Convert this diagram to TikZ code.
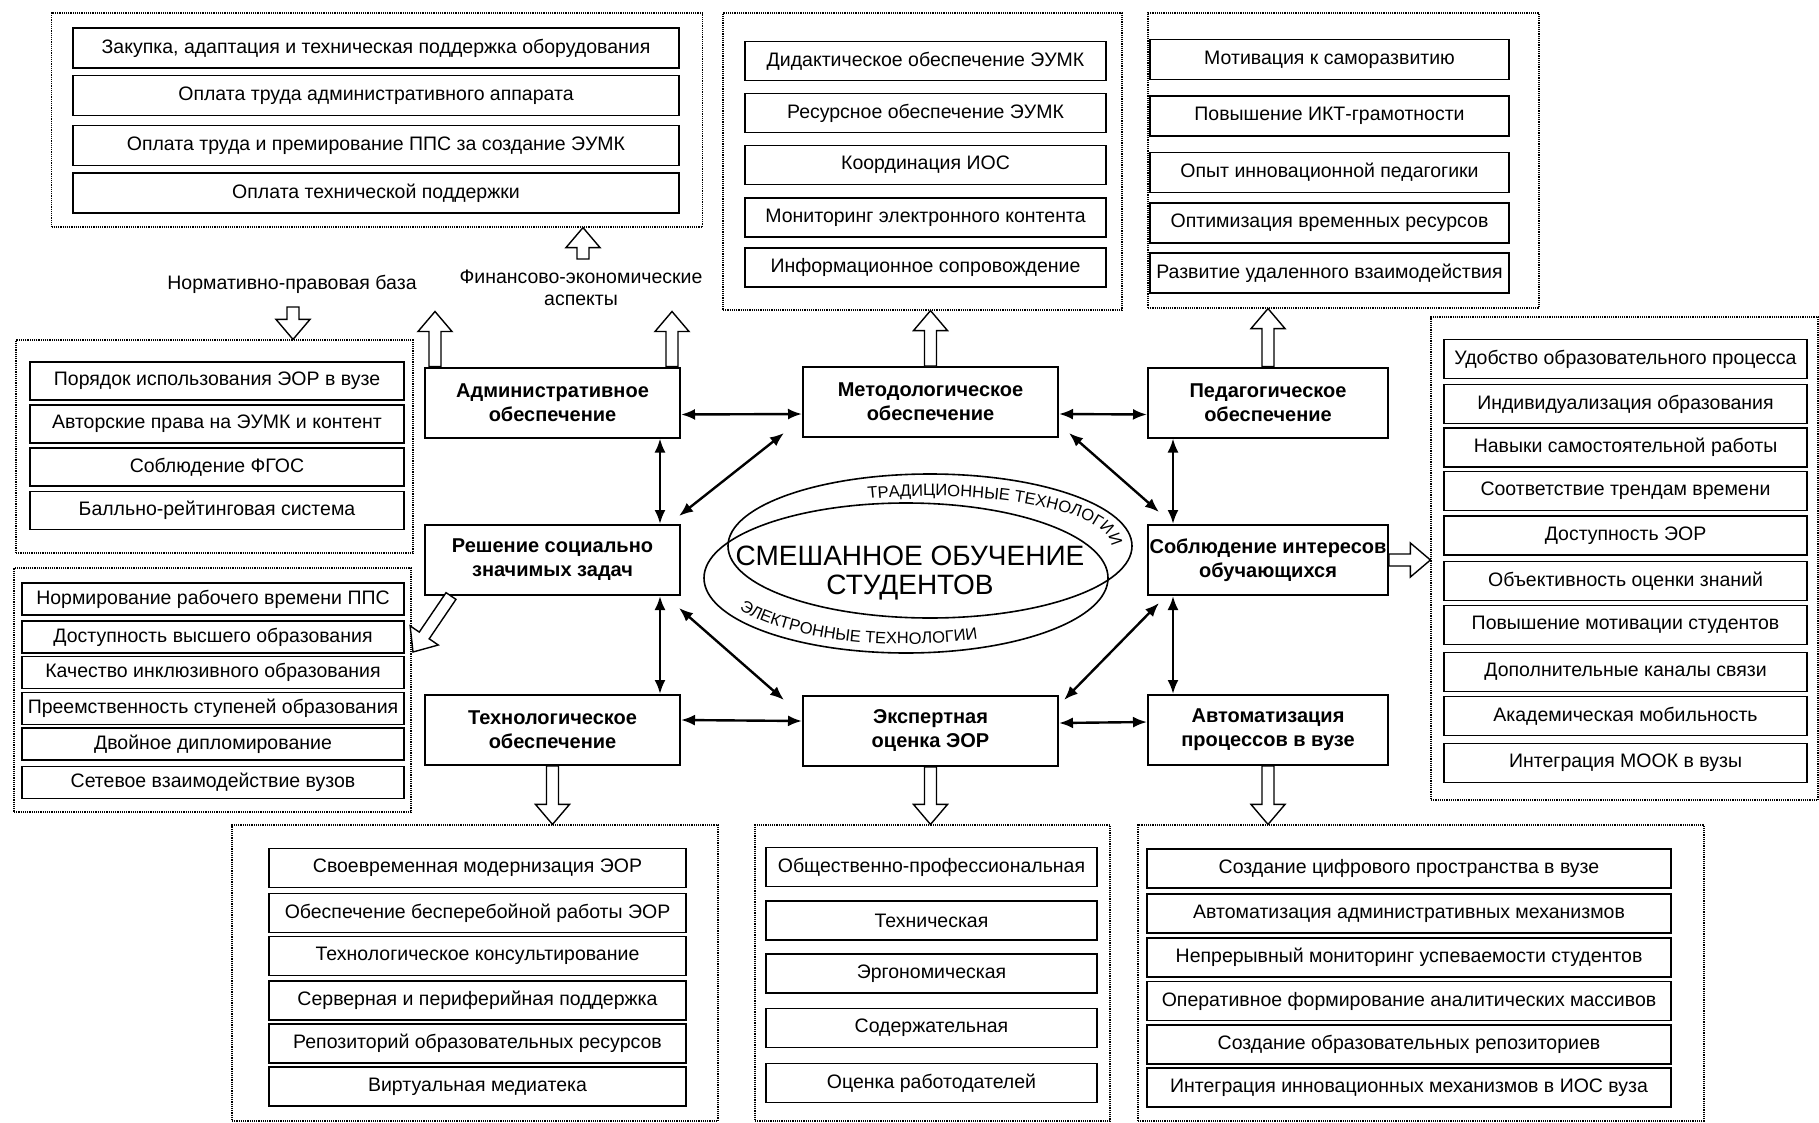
\documentclass[tikz,border=0pt]{standalone}
\usepackage{fontspec}
\setmainfont{Liberation Sans}
\usetikzlibrary{calc,arrows.meta,decorations.text}

\newcommand{\itemfont}{\fontsize{19.5}{22}\selectfont}
\newcommand{\hubfont}{\fontsize{20}{24}\selectfont\bfseries}
\newcommand{\curvefont}{\fontsize{16.5}{17}\selectfont}

\newcommand{\blockarrow}[2]{%
  \coordinate (bahead) at ($(#2)!20pt!(#1)$);
  \draw[hollow] ($(#1)!6pt!90:(#2)$) -- ($(bahead)!6pt!-90:(#1)$)
    -- ($(bahead)!17pt!-90:(#1)$) -- (#2) -- ($(bahead)!17pt!90:(#1)$)
    -- ($(bahead)!6pt!90:(#1)$) -- ($(#1)!6pt!-90:(#2)$) -- cycle;}

\begin{document}
\begin{tikzpicture}[x=1pt, y=-1pt,
  frame/.style={draw, densely dotted, line width=1.2pt},
  item/.style={draw, line width=1.6pt, fill=white, inner sep=0pt, font=\itemfont},
  finrow/.style={item, minimum width=606, minimum height=40},
  metrow/.style={item, minimum width=361, minimum height=39},
  pedrow/.style={item, minimum width=359, minimum height=40},
  lawrow/.style={item, minimum width=374, minimum height=38},
  socrow/.style={item, minimum width=382, minimum height=32},
  sturow/.style={item, minimum width=363, minimum height=39},
  tecrow/.style={item, minimum width=417, minimum height=39},
  exarow/.style={item, minimum width=331, minimum height=39},
  autrow/.style={item, minimum width=524, minimum height=39},
  hub/.style={draw, line width=2pt, fill=white, align=center, inner sep=0pt,
    minimum width=255, minimum height=70, font=\hubfont},
  lbl/.style={font=\itemfont, align=center},
  link/.style={{Latex[length=14pt,width=11pt]}-{Latex[length=14pt,width=11pt]}, line width=2.4pt},
  hollow/.style={draw, line width=1.4pt, fill=white, line join=miter}]

\useasboundingbox (0,0) rectangle (1819,1123);

\node[frame, minimum width=651, minimum height=214] (finbox) at (377,120) {};
\node[frame, minimum width=399, minimum height=297] (metbox) at (922.5,161.5) {};
\node[frame, minimum width=391, minimum height=295] (pedbox) at (1343.5,160.5) {};
\node[frame, minimum width=397, minimum height=213] (lawbox) at (214.5,446.5) {};
\node[frame, minimum width=397, minimum height=244] (socbox) at (212.5,690) {};
\node[frame, minimum width=387, minimum height=483] (stubox) at (1624.5,558.5) {};
\node[frame, minimum width=486, minimum height=296] (tecbox) at (475,973) {};
\node[frame, minimum width=355, minimum height=296] (exabox) at (932.5,973) {};
\node[frame, minimum width=566, minimum height=296] (autbox) at (1421,973) {};

\node[finrow] (fin1) at (376,48) {Закупка, адаптация и техническая поддержка оборудования};
\node[finrow] (fin2) at (376,95.5) {Оплата труда административного аппарата};
\node[finrow] (fin3) at (376,145.5) {Оплата труда и премирование ППС за создание ЭУМК};
\node[finrow] (fin4) at (376,193) {Оплата технической поддержки};

\node[metrow] (met1) at (925.5,61) {Дидактическое обеспечение ЭУМК};
\node[metrow] (met2) at (925.5,113) {Ресурсное обеспечение ЭУМК};
\node[metrow] (met3) at (925.5,165) {Координация ИОС};
\node[metrow] (met4) at (925.5,217.5) {Мониторинг электронного контента};
\node[metrow] (met5) at (925.5,267.5) {Информационное сопровождение};

\node[pedrow] (ped1) at (1329.5,59.5) {Мотивация к саморазвитию};
\node[pedrow] (ped2) at (1329.5,116) {Повышение ИКТ-грамотности};
\node[pedrow] (ped3) at (1329.5,172.5) {Опыт инновационной педагогики};
\node[pedrow] (ped4) at (1329.5,223) {Оптимизация временных ресурсов};
\node[pedrow] (ped5) at (1329.5,273) {Развитие удаленного взаимодействия};

\node[lawrow] (law1) at (217,381) {Порядок использования ЭОР в вузе};
\node[lawrow] (law2) at (217,424) {Авторские права на ЭУМК и контент};
\node[lawrow] (law3) at (217,467) {Соблюдение ФГОС};
\node[lawrow] (law4) at (217,510.5) {Балльно-рейтинговая система};

\node[socrow] (soc1) at (213,599) {Нормирование рабочего времени ППС};
\node[socrow] (soc2) at (213,637) {Доступность высшего образования};
\node[socrow] (soc3) at (213,672.5) {Качество инклюзивного образования};
\node[socrow] (soc4) at (213,708.5) {Преемственность ступеней образования};
\node[socrow] (soc5) at (213,744) {Двойное дипломирование};
\node[socrow] (soc6) at (213,782.5) {Сетевое взаимодействие вузов};

\node[sturow] (stu1) at (1625.5,359) {Удобство образовательного процесса};
\node[sturow] (stu2) at (1625.5,404) {Индивидуализация образования};
\node[sturow] (stu3) at (1625.5,447.5) {Навыки самостоятельной работы};
\node[sturow] (stu4) at (1625.5,491) {Соответствие трендам времени};
\node[sturow] (stu5) at (1625.5,535.5) {Доступность ЭОР};
\node[sturow] (stu6) at (1625.5,581) {Объективность оценки знаний};
\node[sturow] (stu7) at (1625.5,625) {Повышение мотивации студентов};
\node[sturow] (stu8) at (1625.5,672) {Дополнительные каналы связи};
\node[sturow] (stu9) at (1625.5,716) {Академическая мобильность};
\node[sturow] (stu10) at (1625.5,763) {Интеграция МООК в вузы};

\node[tecrow] (tec1) at (477.5,868) {Своевременная модернизация ЭОР};
\node[tecrow] (tec2) at (477.5,913) {Обеспечение бесперебойной работы ЭОР};
\node[tecrow] (tec3) at (477.5,956) {Технологическое консультирование};
\node[tecrow] (tec4) at (477.5,1000.5) {Серверная и периферийная поддержка};
\node[tecrow] (tec5) at (477.5,1043.5) {Репозиторий образовательных ресурсов};
\node[tecrow] (tec6) at (477.5,1086.5) {Виртуальная медиатека};

\node[exarow] (exa1) at (931.5,867) {Общественно-профессиональная};
\node[exarow] (exa2) at (931.5,920.5) {Техническая};
\node[exarow] (exa3) at (931.5,973.5) {Эргономическая};
\node[exarow] (exa4) at (931.5,1028) {Содержательная};
\node[exarow] (exa5) at (931.5,1083) {Оценка работодателей};

\node[autrow] (aut1) at (1409,868.5) {Создание цифрового пространства в вузе};
\node[autrow] (aut2) at (1409,913.5) {Автоматизация административных механизмов};
\node[autrow] (aut3) at (1409,957.5) {Непрерывный мониторинг успеваемости студентов};
\node[autrow] (aut4) at (1409,1001) {Оперативное формирование аналитических массивов};
\node[autrow] (aut5) at (1409,1044.5) {Создание образовательных репозиториев};
\node[autrow] (aut6) at (1409,1087.5) {Интеграция инновационных механизмов в ИОС вуза};

\node[hub] (adm) at (552.5,402.5) {Административное\\обеспечение};
\node[hub] (met) at (930.5,402) {Методологическое\\обеспечение};
\node[hub, minimum width=240] (ped) at (1268,402.5) {Педагогическое\\обеспечение};
\node[hub] (soc) at (552.5,560) {Решение социально\\значимых задач};
\node[hub, minimum width=240] (int) at (1268,560) {Соблюдение интересов\\обучающихся};
\node[hub] (tec) at (552.5,730) {Технологическое\\обеспечение};
\node[hub] (exa) at (930.5,731) {Экспертная\\оценка ЭОР};
\node[hub, minimum width=240] (aut) at (1268,730) {Автоматизация\\процессов в вузе};

\node[lbl] (lawlbl) at (292,284) {Нормативно-правовая база};
\node[lbl] (finlbl) at (581,288) {Финансово-экономические\\аспекты};

\draw[line width=1.6pt] (930,546) ellipse [x radius=202, y radius=72];
\draw[line width=1.6pt] (906,578) ellipse [x radius=202, y radius=75];
\node[font=\fontsize{28}{29}\selectfont, align=center] (blend) at (910,573) {СМЕШАННОЕ ОБУЧЕНИЕ\\СТУДЕНТОВ};
\path[decorate, decoration={text along path, text align=left,
    text={|\curvefont|ТРАДИЦИОННЫЕ ТЕХНОЛОГИИ}}]
  ([shift={(-110:181 and 50)}]930,546) arc[start angle=-110, end angle=8, x radius=181, y radius=50];
\path[decorate, decoration={text along path, text align=left,
    text={|\curvefont|ЭЛЕКТРОННЫЕ ТЕХНОЛОГИИ}}]
  ([shift={(-208:189 and 66)}]906,578) arc[start angle=-208, end angle=-330, x radius=189, y radius=66];

\draw[link] ([yshift=-12pt]adm.east) -- ([yshift=-12pt]met.west);
\draw[link] ([yshift=-12pt]met.east) -- ([yshift=-12pt]ped.west);
\draw[link] ([yshift=10pt]tec.east) -- ([yshift=10pt]exa.west);
\draw[link] ([yshift=8pt]exa.east) -- ([yshift=8pt]aut.west);
\draw[link] ([xshift=-21pt]adm.south east) -- ([xshift=-21pt]soc.north east);
\draw[link] ([xshift=-21pt]soc.south east) -- ([xshift=-21pt]tec.north east);
\draw[link] ([xshift=26pt]ped.south west) -- ([xshift=26pt]int.north west);
\draw[link] ([xshift=26pt]int.south west) -- ([xshift=26pt]aut.north west);
\draw[link] ([shift={(-2pt,8pt)}]soc.north east) -- ([shift={(-18pt,5pt)}]met.south west);
\draw[link] ([shift={(10pt,5pt)}]met.south east) -- ([shift={(12pt,12pt)}]int.north west);
\draw[link] ([shift={(-2pt,-12pt)}]soc.south east) -- ([shift={(-18pt,-5pt)}]exa.north west);
\draw[link] ([shift={(5pt,-5pt)}]exa.north east) -- ([shift={(12pt,-7pt)}]int.south west);

\coordinate (admL) at ([xshift=11pt]adm.north west);
\coordinate (admR) at ([xshift=-9pt]adm.north east);
\coordinate (lawup) at ([yshift=55pt]admL);
\coordinate (finup) at ([yshift=55pt]admR);
\coordinate (finfrom) at (583,259);
\coordinate (finto) at (finfrom |- finbox.south);
\coordinate (lawfrom) at (293,307);
\coordinate (lawto) at (lawfrom |- lawbox.north);
\coordinate (metto) at (met.north |- metbox.south);
\coordinate (pedto) at (ped.north |- pedbox.south);
\coordinate (socB) at ([xshift=27pt]soc.south west);
\coordinate (socto) at (413,652);
\coordinate (intto) at (int.east -| stubox.west);
\coordinate (tecto) at (tec.south |- tecbox.north);
\coordinate (exato) at (exa.south |- exabox.north);
\coordinate (autto) at (aut.south |- autbox.north);

\blockarrow{admL}{lawup}
\blockarrow{admR}{finup}
\blockarrow{finfrom}{finto}
\blockarrow{lawfrom}{lawto}
\blockarrow{met.north}{metto}
\blockarrow{ped.north}{pedto}
\blockarrow{socB}{socto}
\blockarrow{int.east}{intto}
\blockarrow{tec.south}{tecto}
\blockarrow{exa.south}{exato}
\blockarrow{aut.south}{autto}
\end{tikzpicture}
\end{document}
